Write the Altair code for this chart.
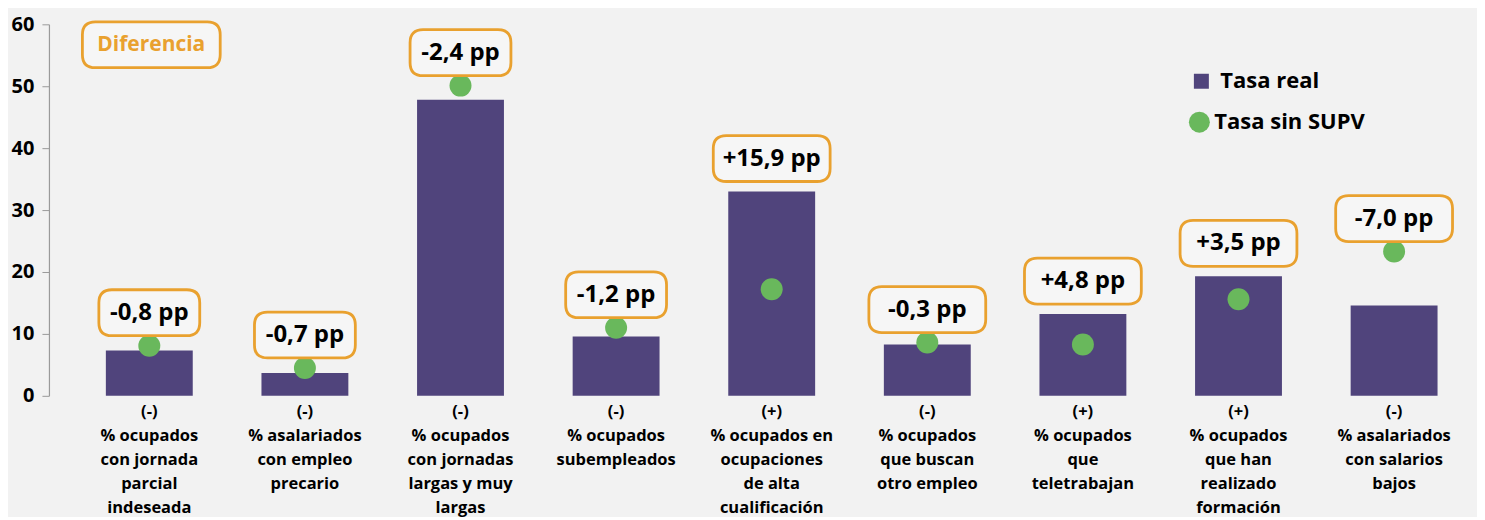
import altair as alt
import pandas as pd

# ---- data ----
signos = ["(-)", "(-)", "(-)", "(-)", "(+)", "(-)", "(+)", "(+)", "(-)"]
indicadores = [
    "% ocupados|con jornada|parcial|indeseada",
    "% asalariados|con empleo|precario",
    "% ocupados|con jornadas|largas y muy|largas",
    "% ocupados|subempleados",
    "% ocupados en|ocupaciones|de alta|cualificación",
    "% ocupados|que buscan|otro empleo",
    "% ocupados|que|teletrabajan",
    "% ocupados|que han|realizado|formación",
    "% asalariados|con salarios|bajos",
]
tasa_real = [7.3, 3.7, 47.8, 9.6, 33.0, 8.3, 13.2, 19.3, 14.6]
tasa_sin_supv = [8.1, 4.5, 50.1, 11.0, 17.2, 8.6, 8.3, 15.6, 23.3]
diferencias = ["-0,8 pp", "-0,7 pp", "-2,4 pp", "-1,2 pp", "+15,9 pp",
               "-0,3 pp", "+4,8 pp", "+3,5 pp", "-7,0 pp"]
y_ticks = [0, 10, 20, 30, 40, 50, 60]

# ---- styles ----
PURPLE = "#50447c"
GREEN = "#69b85c"
ORANGE = "#e9a12f"
BG = "#f2f2f2"
BOXFILL = "#f6f6f6"
FONT = "Open Sans"
LABEL_DY = -33


def rounded_box(w, h, r):
    """SVG path for a rounded rectangle, in Vega's [-1, 1] symbol space."""
    s = w / 2.0
    hw, hh, rr = 1.0, h / 2.0 / s, r / s
    p = (f"M{-hw + rr},{-hh} L{hw - rr},{-hh} Q{hw},{-hh} {hw},{-hh + rr} "
         f"L{hw},{hh - rr} Q{hw},{hh} {hw - rr},{hh} L{-hw + rr},{hh} "
         f"Q{-hw},{hh} {-hw},{hh - rr} L{-hw},{-hh + rr} Q{-hw},{-hh} {-hw + rr},{-hh} Z")
    return p, w * w


cats = [s + "|" + i for s, i in zip(signos, indicadores)]
df = pd.DataFrame({
    "cat": cats,
    "real": tasa_real,
    "sin": tasa_sin_supv,
    "dif": diferencias,
    "idx": list(range(len(cats))),
})

x_enc = alt.X(
    "cat:N", sort=cats, title=None,
    scale=alt.Scale(paddingInner=0.4416, paddingOuter=0.2455, align=0.745, round=False),
    axis=alt.Axis(
        labelExpr="split(datum.label, '|')", labelAngle=0, domain=False, ticks=False,
        labelFont=FONT, labelFontSize=16.5, labelFontWeight="bold", labelColor="black",
        labelLineHeight=24, labelPadding=8, labelLimit=300, labelBaseline="top",
    ),
)
y_scale = alt.Scale(domain=[0, 60], nice=False)

base = alt.Chart(df).encode(x=x_enc)

bars = base.mark_bar(width={"band": 1}).transform_calculate(serie="'Tasa real'").encode(
    y=alt.Y("real:Q", scale=y_scale, title=None,
            axis=alt.Axis(values=y_ticks, grid=False, domainColor="#9a9a9a", tickColor="#9a9a9a",
                          tickSize=7, labelFont=FONT, labelFontSize=20, labelFontWeight="bold",
                          labelColor="black", labelPadding=8, domainWidth=1.2)),
    color=alt.Color("serie:N", scale=alt.Scale(domain=["Tasa real"], range=[PURPLE]),
                    legend=alt.Legend(title=None, orient="none", legendX=1143, legendY=46,
                                      symbolType="square", symbolSize=225, symbolStrokeWidth=0,
                                      labelFont=FONT, labelFontSize=22, labelFontWeight="bold",
                                      labelColor="black", labelOffset=8, padding=0)),
)

points = base.mark_circle(size=484, opacity=1).transform_calculate(serie="'Tasa sin SUPV'").encode(
    y=alt.Y("sin:Q", scale=y_scale, title=None),
    fill=alt.Fill("serie:N", scale=alt.Scale(domain=["Tasa sin SUPV"], range=[GREEN]),
                  legend=alt.Legend(title=None, orient="none", legendX=1141, legendY=87,
                                    symbolType="circle", symbolSize=441, symbolStrokeWidth=0,
                                    labelFont=FONT, labelFontSize=22, labelFontWeight="bold",
                                    labelColor="black", labelOffset=4, padding=0)),
)

top_base = base.transform_calculate(top="max(datum.real, datum.sin)")

narrow_path, narrow_size = rounded_box(101, 46, 13)
wide_path, wide_size = rounded_box(117, 46, 13)
dif_path, dif_size = rounded_box(138, 46, 13)

box_style = dict(filled=True, fill=BOXFILL, stroke=ORANGE, strokeWidth=2.8, opacity=1,
                 yOffset=LABEL_DY)

boxes_narrow = top_base.transform_filter("datum.idx < 4").mark_point(
    shape=narrow_path, size=narrow_size, **box_style
).encode(y=alt.Y("top:Q", scale=y_scale, title=None))

boxes_wide = top_base.transform_filter("datum.idx >= 4").mark_point(
    shape=wide_path, size=wide_size, **box_style
).encode(y=alt.Y("top:Q", scale=y_scale, title=None))

labels = top_base.mark_text(
    font=FONT, fontSize=24, fontWeight="bold", color="black", dy=LABEL_DY, baseline="middle"
).encode(y=alt.Y("top:Q", scale=y_scale, title=None), text="dif:N")

dif_df = pd.DataFrame({"t": ["Diferencia"]})
dif_box = alt.Chart(dif_df).mark_point(
    shape=dif_path, size=dif_size, filled=True, fill=BOXFILL, stroke=ORANGE,
    strokeWidth=2.8, opacity=1, xOffset=2
).encode(x=alt.XDatum(cats[0], type="nominal"), y=alt.YDatum(56.7, type="quantitative"))
dif_text = alt.Chart(dif_df).mark_text(
    font=FONT, fontSize=21, fontWeight="bold", color=ORANGE, baseline="middle", xOffset=2
).encode(x=alt.XDatum(cats[0], type="nominal"), y=alt.YDatum(56.7, type="quantitative"),
         text="t:N")

chart = alt.layer(bars, points, boxes_narrow, boxes_wide, labels, dif_box, dif_text).properties(
    width=1410, height=372,
    padding={"left": 3, "top": 6, "right": 18, "bottom": 0},
    background=BG,
).resolve_scale(color="independent", fill="independent").configure_view(stroke=None)

chart.save("out.html", embed_options={"renderer": "svg", "actions": False})
